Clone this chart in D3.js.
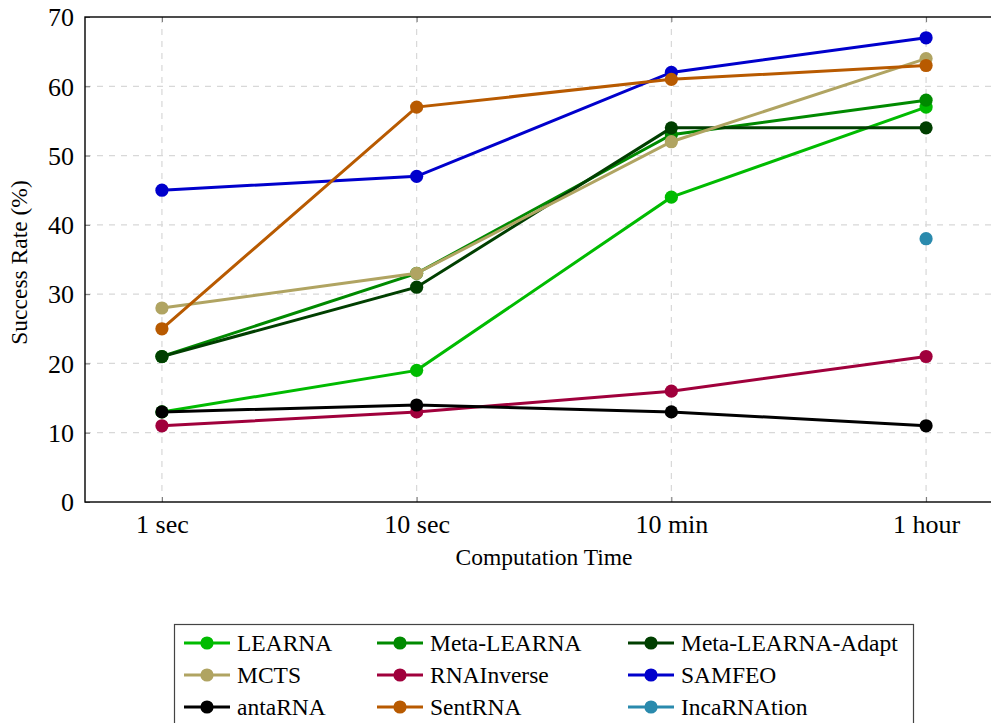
<!DOCTYPE html>
<html>
<head>
<meta charset="utf-8">
<script src="https://cdn.jsdelivr.net/npm/d3@7"></script>
<style>
  body { margin: 0; background: #fff; }
  svg { display: block; font-family: "Liberation Serif", "DejaVu Serif", serif; }
</style>
</head>
<body>
<script>
const times = ['1 sec', '10 sec', '10 min', '1 hour'];
const yTicks = [0, 10, 20, 30, 40, 50, 60, 70];

const learna = [13, 19, 44, 57];
const metaLearna = [21, 33, 53, 58];
const metaLearnaAdapt = [21, 31, 54, 54];
const mcts = [28, 33, 52, 64];
const rnaInverse = [11, 13, 16, 21];
const samfeo = [45, 47, 62, 67];
const antaRna = [13, 14, 13, 11];
const sentRna = [25, 57, 61, 63];
const incaRnation = [null, null, null, 38];

const seriesNames = ['LEARNA', 'Meta-LEARNA', 'Meta-LEARNA-Adapt', 'MCTS', 'RNAInverse',
  'SAMFEO', 'antaRNA', 'SentRNA', 'IncaRNAtion'];
const seriesValues = [learna, metaLearna, metaLearnaAdapt, mcts, rnaInverse,
  samfeo, antaRna, sentRna, incaRnation];
const seriesColors = ['#00bb00', '#008a00', '#003f00', '#b0a462', '#a0003c',
  '#0000cc', '#000000', '#b85a00', '#2a8aad'];

const width = 991, height = 723;
const margin = { left: 85, top: 17, right: 1003, bottom: 502 };

const svg = d3.select('body').append('svg')
  .attr('width', width)
  .attr('height', height);

const x = d3.scalePoint()
  .domain(times)
  .range([margin.left, margin.right])
  .padding(0.302);

const y = d3.scaleLinear()
  .domain([0, 70])
  .range([margin.bottom, margin.top]);

// grid
const grid = svg.append('g')
  .attr('stroke', '#d8d8d8')
  .attr('stroke-width', 1.2)
  .attr('stroke-dasharray', '6,6');
grid.selectAll('.gy')
  .data(yTicks.slice(1, -1))
  .join('line')
  .attr('x1', margin.left).attr('x2', margin.right)
  .attr('y1', (d) => y(d)).attr('y2', (d) => y(d));
grid.selectAll('.gx')
  .data(times)
  .join('line')
  .attr('x1', (d) => x(d)).attr('x2', (d) => x(d))
  .attr('y1', margin.top).attr('y2', margin.bottom);

// axes with inward ticks
const yAxis = svg.append('g')
  .attr('transform', `translate(${margin.left},0)`)
  .call(d3.axisLeft(y).tickValues(yTicks).tickSize(-5).tickPadding(11));
const xAxis = svg.append('g')
  .attr('transform', `translate(0,${margin.bottom})`)
  .call(d3.axisBottom(x).tickSize(-5).tickPadding(13));
const xTop = svg.append('g')
  .attr('transform', `translate(0,${margin.top})`)
  .call(d3.axisTop(x).tickSize(-5).tickFormat(''));

[yAxis, xAxis, xTop].forEach((g) => {
  g.select('.domain').remove();
  g.selectAll('.tick line').attr('stroke', '#777').attr('stroke-width', 1);
  g.selectAll('.tick text')
    .attr('fill', '#000')
    .style('font-family', '"Liberation Serif", serif')
    .style('font-size', '26px');
});
yAxis.selectAll('.tick text').attr('dy', '0.34em');

// frame
svg.append('rect')
  .attr('x', margin.left)
  .attr('y', margin.top)
  .attr('width', margin.right - margin.left)
  .attr('height', margin.bottom - margin.top)
  .attr('fill', 'none')
  .attr('stroke', '#000')
  .attr('stroke-width', 1.4);

// series
const line = d3.line()
  .defined((d) => d != null)
  .x((d, i) => x(times[i]))
  .y((d) => y(d));

seriesValues.forEach((vals, k) => {
  const g = svg.append('g');
  g.append('path')
    .attr('d', line(vals))
    .attr('fill', 'none')
    .attr('stroke', seriesColors[k])
    .attr('stroke-width', 3);
  g.selectAll('circle')
    .data(vals.map((v, i) => ({ v, t: times[i] })).filter((d) => d.v != null))
    .join('circle')
    .attr('cx', (d) => x(d.t))
    .attr('cy', (d) => y(d.v))
    .attr('r', 6.6)
    .attr('fill', seriesColors[k]);
});

// axis labels
svg.append('text')
  .attr('x', (margin.left + margin.right) / 2)
  .attr('y', 565)
  .attr('text-anchor', 'middle')
  .style('font-size', '23.5px')
  .text('Computation Time');

svg.append('text')
  .attr('transform', `translate(27,${(margin.top + margin.bottom) / 2 + 3}) rotate(-90)`)
  .attr('text-anchor', 'middle')
  .style('font-size', '23.5px')
  .text('Success Rate (%)');

// legend
const legend = svg.append('g');
legend.append('rect')
  .attr('x', 174.5)
  .attr('y', 624.5)
  .attr('width', 739)
  .attr('height', 120)
  .attr('fill', '#fff')
  .attr('stroke', '#444')
  .attr('stroke-width', 1.2);

const colX = [184, 377, 628];
const rowY = [643, 675, 707];
seriesNames.forEach((name, k) => {
  const cx = colX[k % 3];
  const cy = rowY[Math.floor(k / 3)];
  const item = legend.append('g').attr('transform', `translate(${cx},${cy})`);
  item.append('line')
    .attr('x1', 0).attr('x2', 46)
    .attr('stroke', seriesColors[k])
    .attr('stroke-width', 3);
  item.append('circle')
    .attr('cx', 23)
    .attr('r', 6.6)
    .attr('fill', seriesColors[k]);
  item.append('text')
    .attr('x', 53)
    .attr('dy', '0.34em')
    .style('font-size', '23.5px')
    .text(name);
});
</script>
</body>
</html>
